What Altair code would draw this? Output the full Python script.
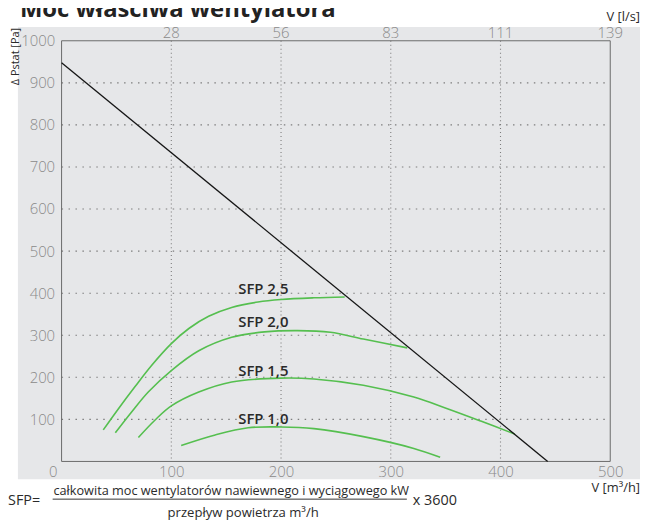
import altair as alt
import pandas as pd

# ---------------- data ----------------
sfp10_x = [109, 140, 170, 200, 230, 275, 321, 345]
sfp10_y = [38, 63, 80, 82, 78, 59, 31, 10]

sfp15_x = [70, 85, 100, 125, 155, 200, 230, 275, 321, 351, 382, 413]
sfp15_y = [57, 98, 132, 165, 189, 198, 196, 181, 153, 126, 96, 65]

sfp20_x = [49, 64, 79, 100, 125, 155, 185, 215, 245, 275, 315]
sfp20_y = [68, 118, 165, 216, 263, 295, 308, 311, 307, 291, 270]

sfp25_x = [38, 52, 67, 82, 100, 116, 134, 155, 179, 200, 230, 258]
sfp25_y = [75, 126, 178, 228, 280, 316, 345, 366, 379, 385, 389, 391]

fan_x = [0, 443]
fan_y = [948, 0]

label_names = ["SFP 1,0", "SFP 1,5", "SFP 2,0", "SFP 2,5"]
label_x = [161, 161, 161, 161]
label_y = [100, 216, 331, 409]

x_ticks = [0, 100, 200, 300, 400, 500]
y_ticks = [100, 200, 300, 400, 500, 600, 700, 800, 900, 1000]
x_grid = [100, 200, 300, 400]
y_grid = [100, 200, 300, 400, 500, 600, 700, 800, 900]
top_ticks = [100, 200, 300, 400, 500]
top_labels = ["28", "56", "83", "111", "139"]

# ---------------- build ----------------
W, H = 553, 424
FONT = "Open Sans"
GREEN = "#55bf4f"
TXT = "#2a2a2a"
TICK = "#8a8a8a"
GRID = "#7d7d7d"

rows = []
for name, xs_, ys_ in [("SFP 1,0", sfp10_x, sfp10_y), ("SFP 1,5", sfp15_x, sfp15_y),
                       ("SFP 2,0", sfp20_x, sfp20_y), ("SFP 2,5", sfp25_x, sfp25_y)]:
    for i, (a, b) in enumerate(zip(xs_, ys_)):
        rows.append({"name": name, "x": a, "y": b, "o": i})
curves = pd.DataFrame(rows)
fan = pd.DataFrame({"x": fan_x, "y": fan_y})
labels = pd.DataFrame({"name": label_names, "x": label_x, "y": label_y})
top = pd.DataFrame({"x": top_ticks, "lab": top_labels})
xg = pd.DataFrame({"x": x_grid})
yg = pd.DataFrame({"y": y_grid})
one = pd.DataFrame({"a": [0]})

xs = alt.Scale(domain=[0, 500], nice=False, zero=False)
ys = alt.Scale(domain=[0, 1000], nice=False, zero=False)

x_axis = alt.Axis(values=x_ticks, title=None, grid=False, domain=False, ticks=False,
                  labelFont=FONT, labelFontSize=15, labelFontWeight=300, labelColor=TICK,
                  labelPadding=3, zindex=1, labelFlush=False, format="d",
                  labelOffset={"condition": {"test": "datum.value == 0", "value": -9}, "value": 0})
y_axis = alt.Axis(values=y_ticks, title=None, grid=False, domain=False, ticks=False,
                  labelFont=FONT, labelFontSize=15, labelFontWeight=300, labelColor=TICK,
                  labelPadding=7, zindex=1, labelFlush=False, format="d")
X = alt.X("x:Q", scale=xs, axis=x_axis)
Y = alt.Y("y:Q", scale=ys, axis=y_axis)

bg = alt.Chart(one).mark_rect(color="#e6e7e9").encode(
    x=alt.value(-44), x2=alt.value(583), y=alt.value(-14), y2=alt.value(442))

vgrid = alt.Chart(xg).mark_rule(color=GRID, strokeWidth=1.1, strokeDash=[1, 3]).encode(
    x=X, y=alt.value(0), y2=alt.value(H))
hgrid = alt.Chart(yg).mark_rule(color=GRID, strokeWidth=1.1, strokeDash=[1.5, 5.5]).encode(
    y=Y, x=alt.value(0), x2=alt.value(W))

frame = alt.Chart(one).mark_rect(filled=False, stroke="#6a6a6a", strokeWidth=1).encode(
    x=alt.value(0), x2=alt.value(W), y=alt.value(0), y2=alt.value(H))

lines = alt.Chart(curves).mark_line(color=GREEN, strokeWidth=1.6, interpolate="catmull-rom").encode(
    x=X, y=Y, detail="name:N", order="o:Q")

fanline = alt.Chart(fan).mark_line(color="#151515", strokeWidth=1.3).encode(x=X, y=Y)

sfp_text = alt.Chart(labels).mark_text(font=FONT, fontSize=15, fontWeight=600, color=TXT,
                                       align="left", baseline="middle").encode(
    x=X, y=Y, text="name:N")

top_text = alt.Chart(top).mark_text(font=FONT, fontSize=15, fontWeight=300, color=TICK,
                                    align="center", baseline="middle").encode(
    x=X, y=alt.value(-8), text="lab:N")


def txt(s, x, y, size=14, weight="normal", align="left", baseline="middle", angle=0, color=TXT):
    kw = dict(text=s, font=FONT, fontSize=size, fontWeight=weight, align=align,
              baseline=baseline, color=color)
    if angle:
        kw["angle"] = angle
    return alt.Chart(one).mark_text(**kw).encode(x=alt.value(x), y=alt.value(y))


title = txt("Moc właściwa wentylatora", -42, -24, size=24, weight="bold",
            baseline="alphabetic", color="#222222")
ytitle = txt("Δ Pstat [Pa]", -46, -13, size=11, align="right", angle=270)
vls = txt("V [l/s]", 583, -20, size=13, align="right", baseline="alphabetic")
vmh = txt("V [m³/h]", 583, 451, size=13, align="right")
sfp_eq = txt("SFP=", -54, 464, size=14.5)
numer = txt("całkowita moc wentylatorów nawiewnego i wyciągowego kW", 171, 454, size=12.8, align="center")
denom = txt("przepływ powietrza  m³/h", 183, 476, size=13.2, align="center")
times = txt("x 3600", 354, 464, size=14.5)
frac = alt.Chart(one).mark_rule(color="#333333", strokeWidth=1).encode(
    x=alt.value(-9), x2=alt.value(348), y=alt.value(462))

chart = alt.layer(
    bg, vgrid, hgrid, frame, lines, fanline, sfp_text, top_text,
    title, ytitle, vls, vmh, sfp_eq, numer, denom, times, frac
).properties(
    width=W, height=H, autosize="none",
    padding={"left": 54, "top": 31, "right": 30, "bottom": 59},
    background="white"
).configure_view(strokeWidth=0)

chart.save("out.html", embed_options={"renderer": "svg", "actions": False})
